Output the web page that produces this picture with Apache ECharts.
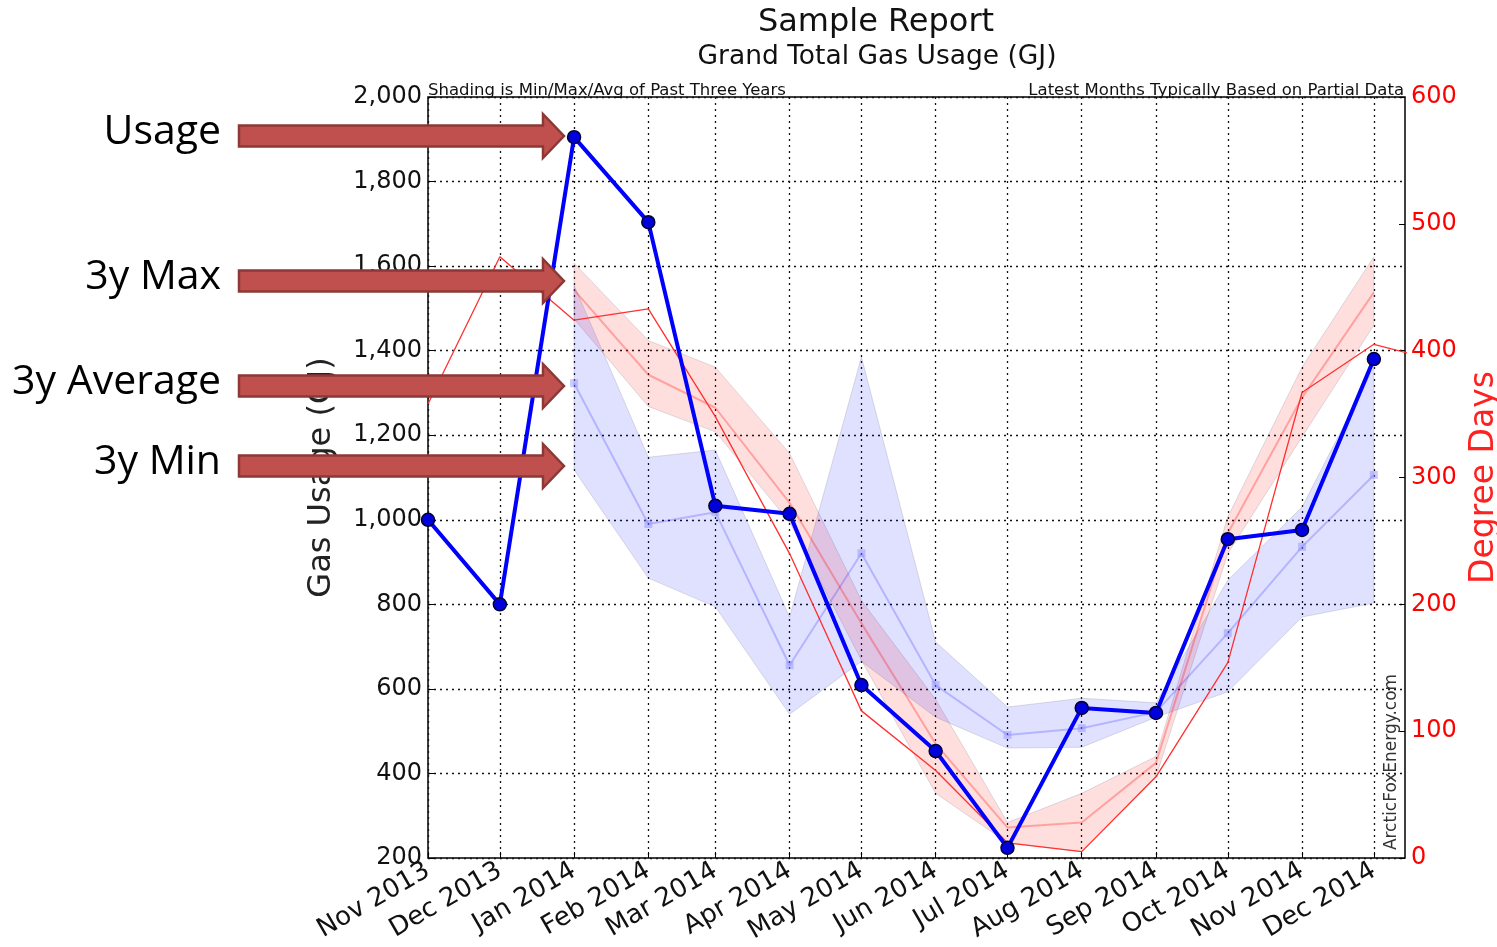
<!DOCTYPE html>
<html>
<head>
<meta charset="utf-8">
<title>Sample Report</title>
<script src="https://cdn.jsdelivr.net/npm/echarts@6/dist/echarts.min.js"></script>
<style>
    html,body{margin:0;padding:0;background:#fff;}
    #chart{width:1497px;height:947px;}
</style>
</head>
<body>
<div id="chart"></div>
<script>
// months shown on the x axis (tick labels)
const months=['2013-11','2013-12','2014-01','2014-02','2014-03','2014-04','2014-05','2014-06','2014-07','2014-08','2014-09','2014-10','2014-11','2014-12'];
const monthNames=['Jan','Feb','Mar','Apr','May','Jun','Jul','Aug','Sep','Oct','Nov','Dec'];

// gas usage (GJ), one value per month above
const usage=[1000,800,1905,1704,1033,1014,609,453,224,555,543,954,976,1380];

// degree days, runs one month past the chart edge
const ddMonths=['2013-11','2013-12','2014-01','2014-02','2014-03','2014-04','2014-05','2014-06','2014-07','2014-08','2014-09','2014-10','2014-11','2014-12','2015-01'];
const degreeDays=[358,474,424,433,348,240,116,69,12,5,64,154,367,405,390];

// past three years shading (Jan 2014 .. Dec 2014)
const bandMonths=['2014-01','2014-02','2014-03','2014-04','2014-05','2014-06','2014-07','2014-08','2014-09','2014-10','2014-11','2014-12'];
const usageMin=[1118,862,794,540,665,533,460,462,533,593,770,803];
const usageAvg=[1323,990,1018,656,921,609,491,507,545,732,936,1106];
const usageMax=[1555,1148,1165,770,1385,711,557,578,567,857,1030,1361];
const ddMin=[425,356,336,265,156,51,12,5,64,240,332,420];
const ddAvg=[448,381,355,280,185,90,24,28,75,256,363,446];
const ddMax=[469,408,387,319,203,125,28,51,80,269,387,474];

// arrow call-outs on the left
const callouts=['Usage','3y Max','3y Average','3y Min'];
const calloutY=[136,281,386,466];

function ts(m){
    let p=m.split('-');
    return new Date(+p[0],+p[1]-1,1).getTime();
}
function pairs(ms,vals){
    return ms.map(function(m,i){return [ts(m),vals[i]];});
}

const tickTimes=months.map(ts);
const xMin=ts('2013-11');
const xMax=new Date(2014,11,14).getTime();

// min/max shading drawn as one polygon through the axes
function bandSeries(name,yIndex,mins,maxs,fill){
    return {
        name:name,
        type:'custom',
        yAxisIndex:yIndex,
        data:bandMonths.map(function(m,i){return [ts(m),mins[i],maxs[i]];}),
        encode:{x:0,y:[1,2]},
        renderItem:function(params,api){
            if(params.dataIndex!==0) return;
            let top=[],bottom=[];
            for(let i=0;i<bandMonths.length;i++){
                top.push(api.coord([ts(bandMonths[i]),maxs[i]]));
                bottom.unshift(api.coord([ts(bandMonths[i]),mins[i]]));
            }
            return {
                type:'polygon',
                shape:{points:top.concat(bottom)},
                style:{fill:fill,stroke:'rgba(110,110,130,0.22)',lineWidth:1}
            };
        }
    };
}

const chart=echarts.init(document.getElementById('chart'));

let graphics=[];
calloutY.forEach(function(cy,i){
    graphics.push({
        type:'polygon',
        z:100,
        shape:{points:[[239,cy-10.5],[543,cy-10.5],[543,cy-22],[564,cy],[543,cy+22],[543,cy+10.5],[239,cy+10.5]]},
        style:{fill:'#c0504d',stroke:'#8c3836',lineWidth:2.5}
    });
    graphics.push({
        type:'text',
        z:100,
        x:221,
        y:cy-4,
        style:{text:callouts[i],fill:'#000',font:'41px "Open Sans"',textAlign:'right',textVerticalAlign:'middle'}
    });
});
graphics.push({
    type:'text',
    z:50,
    x:1392,
    y:762,
    rotation:Math.PI/2,
    style:{text:'ArcticFoxEnergy.com',fill:'#333',font:'17px "DejaVu Sans"',textAlign:'center',textVerticalAlign:'middle'}
});

const dotted={color:'#111',type:[2,4],width:1.3};

chart.setOption({
    animation:false,
    textStyle:{fontFamily:'DejaVu Sans'},
    title:[
        {text:'Sample Report',left:871,top:2,textAlign:'center',textStyle:{fontSize:32,fontWeight:'normal',color:'#111'}},
        {text:'Grand Total Gas Usage (GJ)',left:872,top:39,textAlign:'center',textStyle:{fontSize:26.5,fontWeight:'normal',color:'#111'}},
        {text:'Shading is Min/Max/Avg of Past Three Years',left:423,top:77,textStyle:{fontSize:16.5,fontWeight:'normal',color:'#111'}},
        {text:'Latest Months Typically Based on Partial Data',right:88,top:77,textStyle:{fontSize:16.5,fontWeight:'normal',color:'#111'}}
    ],
    grid:{left:428,right:92,top:97,bottom:89,outerBoundsMode:'none',containLabel:false,show:true,borderColor:'#000',borderWidth:1.5},
    xAxis:{
        type:'value',
        min:xMin,
        max:xMax,
        axisLine:{show:false},
        axisTick:{show:true,inside:true,length:6,customValues:tickTimes,lineStyle:{color:'#000'}},
        axisLabel:{
            customValues:tickTimes,
            rotate:30,
            fontSize:26,
            color:'#111',
            margin:11,
            formatter:function(v){
                let d=new Date(v);
                return monthNames[d.getMonth()]+' '+d.getFullYear();
            }
        },
        splitLine:{show:true,lineStyle:dotted}
    },
    yAxis:[
        {
            type:'value',
            min:200,
            max:2000,
            interval:200,
            position:'left',
            name:'Gas Usage (GJ)',
            nameLocation:'middle',
            nameRotate:90,
            nameGap:90,
            nameTextStyle:{fontSize:32,color:'#222'},
            axisLine:{show:false},
            axisTick:{show:true,inside:true,length:6,lineStyle:{color:'#000'}},
            axisLabel:{fontSize:24,color:'#111',margin:6,formatter:function(v){return v.toLocaleString('en-US');}},
            splitLine:{show:true,lineStyle:dotted}
        },
        {
            type:'value',
            min:0,
            max:600,
            interval:100,
            position:'right',
            name:'Degree Days',
            nameLocation:'middle',
            nameRotate:90,
            nameGap:52,
            nameTextStyle:{fontSize:33,color:'#ff2020'},
            axisLine:{show:false},
            axisTick:{show:true,inside:true,length:6,lineStyle:{color:'#000'}},
            axisLabel:{fontSize:24,color:'#ff0000',margin:6},
            splitLine:{show:false}
        }
    ],
    graphic:graphics,
    series:[
        bandSeries('dd band',1,ddMin,ddMax,'rgba(255,0,0,0.13)'),
        bandSeries('usage band',0,usageMin,usageMax,'rgba(0,0,255,0.12)'),
        {
            name:'dd avg',type:'line',yAxisIndex:1,symbol:'none',
            lineStyle:{color:'rgba(255,0,0,0.28)',width:2},
            data:pairs(bandMonths,ddAvg)
        },
        {
            name:'usage avg',type:'line',yAxisIndex:0,symbol:'rect',symbolSize:8,
            lineStyle:{color:'rgba(0,0,255,0.2)',width:2},
            itemStyle:{color:'rgba(140,140,255,0.45)'},
            data:pairs(bandMonths,usageAvg)
        },
        {
            name:'Degree Days',type:'line',yAxisIndex:1,symbol:'none',
            lineStyle:{color:'#ff3030',width:1.3},
            data:pairs(ddMonths,degreeDays)
        },
        {
            name:'Usage',type:'line',yAxisIndex:0,symbol:'circle',symbolSize:13,
            lineStyle:{color:'#0000ff',width:4},
            itemStyle:{color:'#0000dd',borderColor:'#000030',borderWidth:1.5},
            data:pairs(months,usage)
        }
    ]
});
</script>
</body>
</html>
